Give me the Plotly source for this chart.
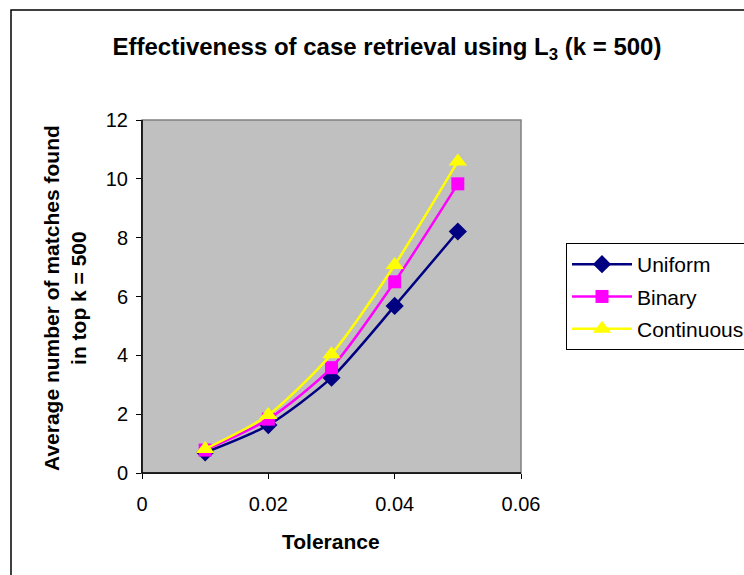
import plotly.graph_objects as go

tolerance = [0.01, 0.02, 0.03, 0.04, 0.05]
uniform = [0.7, 1.63, 3.24, 5.68, 8.21]
binary = [0.78, 1.83, 3.58, 6.5, 9.83]
continuous = [0.82, 1.97, 4.04, 7.07, 10.59]

series = [
    ("Uniform", uniform, "#000080", "diamond", 14),
    ("Binary", binary, "#FF00FF", "square", 13),
    ("Continuous", continuous, "#FFFF00", "triangle-up", 16),
]

W, H = 744, 575
L, R, T, B = 142, 521, 120, 473

def px(x):
    return (x - L) / (R - L)

def py(y):
    return (B - y) / (B - T)

fig = go.Figure()
for i, (name, vals, col, sym, size) in enumerate(series):
    fig.add_trace(go.Scatter(
        x=tolerance, y=vals, name=name, mode="lines+markers",
        line=dict(color=col, width=2.5, shape="spline", smoothing=0.7),
        marker=dict(symbol=sym, size=size, color=col, line=dict(width=0)),
        legendgroup=str(i),
    ))

fig.update_layout(
    width=W, height=H,
    margin=dict(l=L, r=W - R, t=T, b=H - B, autoexpand=False),
    paper_bgcolor="white", plot_bgcolor="#C0C0C0",
    font=dict(family="Liberation Sans, Arial", size=20, color="black"),
    title=dict(text="<b>Effectiveness of case retrieval using L<sub>3</sub> (k = 500)</b>",
               x=387 / W, xref="container", xanchor="center",
               y=1 - 47 / H, yref="container", yanchor="middle",
               font=dict(size=24)),
    showlegend=True,
    legend=dict(x=px(566), y=py(243), xanchor="left", yanchor="top",
                bordercolor="black", borderwidth=1, bgcolor="white",
                font=dict(size=21), tracegroupgap=2, traceorder="grouped",
                itemwidth=60),
    xaxis=dict(range=[0, 0.06], dtick=0.02, tick0=0, showgrid=False, zeroline=False,
               showline=True, linecolor="black", linewidth=1, ticks="outside",
               ticklen=5, tickcolor="black", tickformat="~g", ticklabelstandoff=8,
               tickfont=dict(size=20)),
    yaxis=dict(range=[0, 12], dtick=2, showgrid=False, zeroline=False,
               showline=True, linecolor="black", linewidth=1, ticks="outside",
               ticklen=5, tickcolor="black", ticklabelstandoff=4,
               tickfont=dict(size=20)),
    shapes=[
        dict(type="rect", xref="paper", yref="paper", x0=0, y0=0, x1=1, y1=1,
             line=dict(color="#808080", width=1.5), layer="above"),
        dict(type="line", xref="paper", yref="paper", x0=0, y0=0, x1=0, y1=1,
             line=dict(color="black", width=1.5), layer="above"),
        dict(type="line", xref="paper", yref="paper", x0=0, y0=0, x1=1, y1=0,
             line=dict(color="black", width=1.5), layer="above"),
        dict(type="rect", xref="paper", yref="paper", x0=px(11), y0=py(600),
             x1=px(780), y1=py(10), line=dict(color="black", width=1.5)),
    ],
    annotations=[
        dict(text="<b>Average number of matches found<br>in top k = 500</b>",
             xref="paper", yref="paper", x=px(65), y=py(298),
             xanchor="center", yanchor="middle", textangle=-90, showarrow=False,
             font=dict(size=21)),
        dict(text="<b>Tolerance</b>",
             xref="paper", yref="paper", x=px(331), y=py(541),
             xanchor="center", yanchor="middle", showarrow=False,
             font=dict(size=21)),
    ],
)

fig.write_html("out.html")
